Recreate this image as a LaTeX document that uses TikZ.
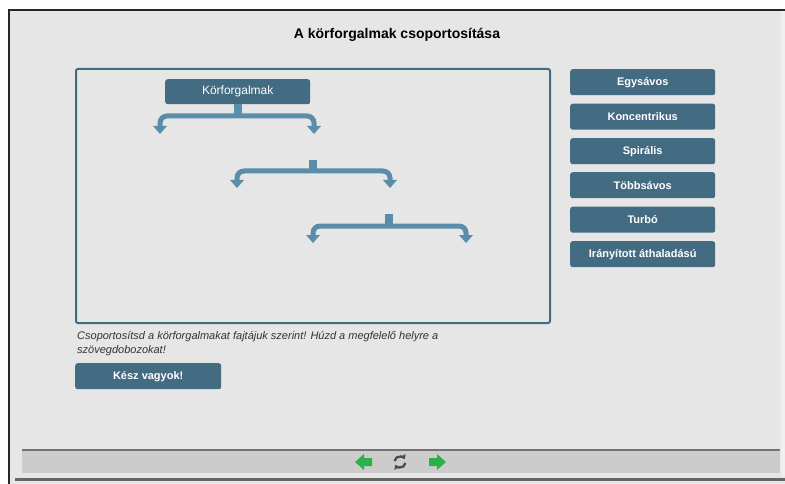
\documentclass[tikz,border=0pt]{standalone}
\usepackage{fontspec}
\setmainfont{Liberation Sans}
\usetikzlibrary{arrows.meta,calc}
\definecolor{panel}{HTML}{E6E6E6}
\definecolor{btn}{HTML}{436B82}
\definecolor{brk}{HTML}{5A8DA9}
\definecolor{frame}{HTML}{416B82}
\definecolor{bar}{HTML}{CCCCCC}
\definecolor{navgreen}{HTML}{2BB14A}
\definecolor{txt}{HTML}{333333}
\tikzset{
  btnbox/.style={fill=btn, rounded corners=2.5pt, text=white, minimum height=26pt, inner sep=0pt, anchor=north west},
  sidebtn/.style={btnbox, minimum width=145pt, font=\fontsize{11}{13}\selectfont\bfseries},
  bracketline/.style={draw=brk, line width=5pt, rounded corners=7pt},
  stemline/.style={draw=brk, line width=8pt},
  tiphead/.style={fill=brk},
}
\newcommand{\brackettip}[1]{\fill[tiphead] ($(#1)+(-7,-8)$) -- ($(#1)+(7,-8)$) -- (#1) -- cycle;}
\begin{document}
\begin{tikzpicture}[x=1pt,y=-1pt]
\useasboundingbox (0,0) rectangle (785,484);
\fill[white] (0,0) rectangle (785,484);
\fill[panel] (9,10) rectangle (785,484);
\fill[black!85] (8,9) rectangle (785,11);
\fill[black!85] (8,9) rectangle (10,484);
\fill[white!94!black] (781,11) rectangle (785,476);
% title
\node[font=\fontsize{14}{16}\selectfont\bfseries] (title) at (397,35) {A körforgalmak csoportosítása};
% main frame
\draw[frame, line width=2pt, rounded corners=2pt] (76,69) rectangle (550,323);
\node[btnbox, minimum width=145pt, minimum height=25pt, font=\fontsize{12}{14}\selectfont] (k) at (165,79) {Körforgalmak};
% bracket 1
\coordinate (b1l) at (160,134);
\coordinate (b1r) at (314,134);
\draw[stemline] (k.south) -- ++(0,10);
\draw[bracketline] (160,127) -- (160,116) -- (314,116) -- (314,127);
\brackettip{b1l}\brackettip{b1r}
% bracket 2
\coordinate (b2s) at (313,160);
\coordinate (b2l) at (237,188);
\coordinate (b2r) at (390,188);
\draw[stemline] (b2s) -- ++(0,10);
\draw[bracketline] (237,181) -- (237,171) -- (390,171) -- (390,181);
\brackettip{b2l}\brackettip{b2r}
% bracket 3
\coordinate (b3s) at (389,214);
\coordinate (b3l) at (313,243);
\coordinate (b3r) at (466,243);
\draw[stemline] (b3s) -- ++(0,11);
\draw[bracketline] (313,236) -- (313,226) -- (466,226) -- (466,236);
\brackettip{b3l}\brackettip{b3r}
% side buttons
\node[sidebtn] (s1) at (570,69) {Egysávos};
\node[sidebtn] (s2) at (570,103.5) {Koncentrikus};
\node[sidebtn] (s3) at (570,138) {Spirális};
\node[sidebtn] (s4) at (570,172) {Többsávos};
\node[sidebtn] (s5) at (570,206.5) {Turbó};
\node[sidebtn] (s6) at (570,241) {Irányított áthaladású};
% instruction
\node[anchor=north west, inner sep=0pt, align=left, text=txt, font=\fontsize{11}{14}\selectfont\itshape] (instr) at (77,331) {Csoportosítsd a körforgalmakat fajtájuk szerint! Húzd a megfelelő helyre a\\szövegdobozokat!};
\node[btnbox, minimum width=146pt, font=\fontsize{11}{13}\selectfont\bfseries] (done) at (75,363) {Kész vagyok!};
% bottom bar
\fill[bar] (22,450) rectangle (780,473);
\fill[black!55] (22,449) rectangle (780,451);
\fill[white!80!black] (343.5,451) rectangle (344.5,473);
\fill[white!80!black] (459.5,451) rectangle (460.5,473);
\fill[black!60] (15,478) rectangle (785,481);
% nav icons
\node[inner sep=0pt, minimum size=16pt] (prev) at (364,462) {};
\node[inner sep=0pt, minimum size=16pt] (refresh) at (400,462) {};
\node[inner sep=0pt, minimum size=16pt] (next) at (437,462) {};
\fill[navgreen] ($(prev)+(-9,0)$) -- ($(prev)+(0,-8)$) -- ($(prev)+(0,-4)$) -- ($(prev)+(8,-4)$) -- ($(prev)+(8,4)$) -- ($(prev)+(0,4)$) -- ($(prev)+(0,8)$) -- cycle;
\fill[navgreen] ($(next)+(9,0)$) -- ($(next)+(0,-8)$) -- ($(next)+(0,-4)$) -- ($(next)+(-8,-4)$) -- ($(next)+(-8,4)$) -- ($(next)+(0,4)$) -- ($(next)+(0,8)$) -- cycle;
\draw[black!70, line width=2.3pt, -{Triangle[length=4pt,width=6pt]}] ($(refresh)+(5.5,1)$) arc[start angle=-10, end angle=-150, radius=5.6pt];
\draw[black!70, line width=2.3pt, -{Triangle[length=4pt,width=6pt]}] ($(refresh)+(-5.5,-1)$) arc[start angle=170, end angle=30, radius=5.6pt];
\end{tikzpicture}
\end{document}
